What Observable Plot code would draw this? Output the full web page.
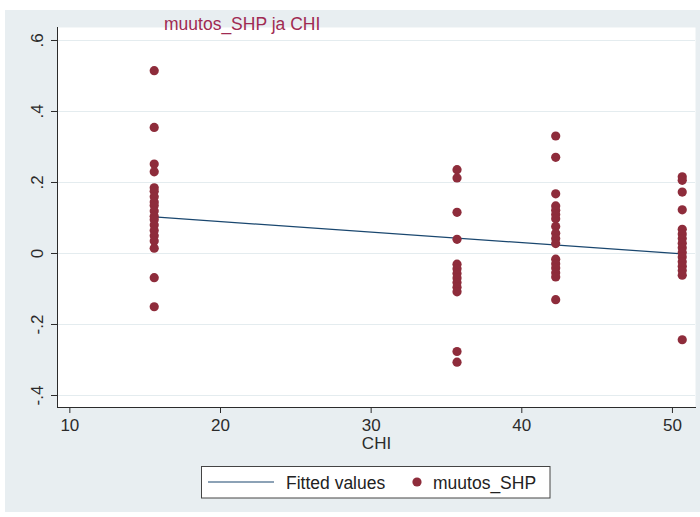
<!DOCTYPE html>
<html>
<head>
<meta charset="utf-8">
<script src="https://cdn.jsdelivr.net/npm/d3@7"></script>
<script src="https://cdn.jsdelivr.net/npm/@observablehq/plot@0.6"></script>
<style>
  html, body { margin: 0; padding: 0; background: #ffffff; }
  #chart { width: 700px; height: 517px; }
</style>
</head>
<body>
<div id="chart"></div>
<script>
// CHI values (x) shared by each group of observations
const chiValues = [15.6, 35.7, 42.25, 50.65];

// muutos_SHP observations for each CHI value
const shpAtChi1 = [0.515, 0.355, 0.252, 0.230, 0.185, 0.175, 0.160, 0.145, 0.135, 0.120, 0.105,
                   0.095, 0.080, 0.065, 0.050, 0.035, 0.015, -0.068, -0.150];
const shpAtChi2 = [0.236, 0.213, 0.116, 0.040, -0.030, -0.043, -0.056, -0.069, -0.082, -0.095,
                   -0.108, -0.276, -0.306];
const shpAtChi3 = [0.331, 0.271, 0.168, 0.134, 0.122, 0.110, 0.098, 0.076, 0.057, 0.042, 0.028,
                   -0.016, -0.029, -0.041, -0.054, -0.066, -0.130];
const shpAtChi4 = [0.216, 0.206, 0.173, 0.123, 0.068, 0.055, 0.042, 0.029, 0.016, 0.003, -0.010,
                   -0.023, -0.036, -0.048, -0.061, -0.243];

// Fitted values (linear fit) at the smallest and largest CHI
const fittedChi = [15.6, 50.65];
const fittedShp = [0.103, -0.001];

// Axis ticks
const xTicks = [10, 20, 30, 40, 50];
const yTicks = [-0.4, -0.2, 0, 0.2, 0.4, 0.6];

const groups = [shpAtChi1, shpAtChi2, shpAtChi3, shpAtChi4];
const points = groups.flatMap((vals, i) => vals.map(v => ({chi: chiValues[i], shp: v})));
const fitted = fittedChi.map((c, i) => ({chi: c, shp: fittedShp[i]}));

// Stata-style number labels: ".6", "-.2", "0"
const stataFormat = d => d === 0 ? "0" : String(+d.toFixed(1)).replace("0.", ".");

const font = "'Liberation Sans', Arial, sans-serif";
const axisColor = "#2b2b2b";
const dotColor = "#8e2c3b";
const lineColor = "#1a476f";

const svg = Plot.plot({
  width: 700,
  height: 517,
  marginLeft: 57,
  marginRight: 5,
  marginTop: 27,
  marginBottom: 110,
  style: {background: "transparent", fontFamily: font, color: axisColor},
  x: {domain: [9.18, 51.53], label: null},
  y: {domain: [-0.4338, 0.6366], label: null},
  marks: [
    Plot.frame({fill: "#ffffff", stroke: null}),
    Plot.gridY(yTicks, {stroke: "#e4ecef", strokeOpacity: 1, strokeWidth: 1}),
    Plot.line(fitted, {x: "chi", y: "shp", stroke: lineColor, strokeWidth: 1.2}),
    Plot.dot(points, {x: "chi", y: "shp", r: 4.6, fill: dotColor, stroke: null}),
    Plot.axisX(xTicks, {tickSize: 6, tickPadding: 5, fontSize: 17, stroke: axisColor, fill: axisColor, label: null}),
    Plot.axisY(yTicks, {tickSize: 6, tickPadding: 9, fontSize: 17, tickRotate: -90,
                        tickFormat: stataFormat, stroke: axisColor, fill: axisColor, label: null}),
    Plot.frame({anchor: "left", stroke: axisColor}),
    Plot.frame({anchor: "bottom", stroke: axisColor}),
    Plot.text(["CHI"], {frameAnchor: "bottom", dy: 41, lineAnchor: "bottom", fontSize: 17, fill: axisColor})
  ]
});

// Graph region background behind the plot
const root = d3.select(svg);
root.style("background", "#ffffff");
root.insert("rect", ":first-child")
  .attr("x", 5).attr("y", 10).attr("width", 695).attr("height", 502)
  .attr("fill", "#e8eef1");

// Title
root.append("text")
  .attr("x", 164).attr("y", 30)
  .attr("text-anchor", "start")
  .attr("font-family", font).attr("font-size", 17.5)
  .attr("fill", "#a02a52")
  .text("muutos_SHP ja CHI");

// Legend
const legend = root.append("g")
  .attr("font-family", font).attr("font-size", 17.5)
  .attr("text-anchor", "start").attr("fill", "#222");
legend.append("rect")
  .attr("x", 201.5).attr("y", 466.5).attr("width", 348.5).attr("height", 31.5)
  .attr("fill", "#ffffff").attr("stroke", "#444").attr("stroke-width", 1);
legend.append("line")
  .attr("x1", 208).attr("x2", 274).attr("y1", 482).attr("y2", 482)
  .attr("stroke", lineColor).attr("stroke-width", 1.2);
legend.append("text").attr("x", 286).attr("y", 488.5).text("Fitted values");
legend.append("circle").attr("cx", 417).attr("cy", 482).attr("r", 4.6).attr("fill", dotColor);
legend.append("text").attr("x", 433).attr("y", 488.5).text("muutos_SHP");

document.getElementById("chart").appendChild(svg);
</script>
</body>
</html>
